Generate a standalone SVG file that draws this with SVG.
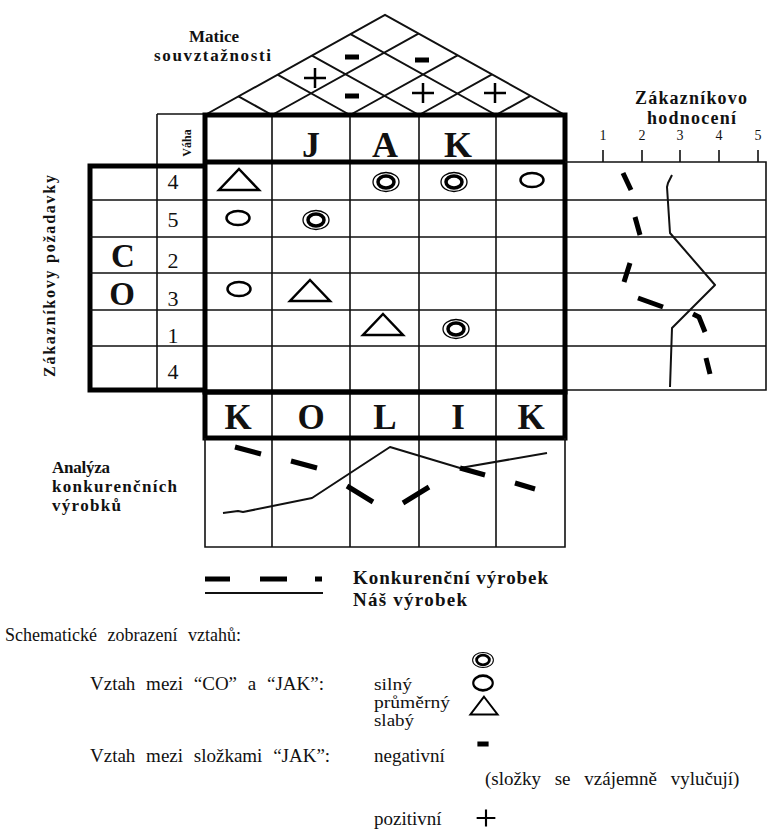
<svg xmlns="http://www.w3.org/2000/svg" width="773" height="831" viewBox="0 0 773 831">
<style>
.thin{stroke:#111;stroke-width:1.6;fill:none}
.thick{stroke:#000;stroke-width:5;fill:none}
.roof{stroke:#111;stroke-width:2;fill:none}
.sym{stroke:#000;fill:none}
.comp{stroke:#000;stroke-width:5;fill:none}
.ours{stroke:#111;stroke-width:2;fill:none;stroke-linejoin:round}
.b{font-family:"Liberation Serif","Times New Roman",serif;font-weight:bold;fill:#111}
.r{font-family:"Liberation Serif","Times New Roman",serif;fill:#111}
.mid{text-anchor:middle}
</style>
<defs>
<g id="strong"><ellipse rx="13" ry="9.5" stroke-width="1.3"/><ellipse rx="8" ry="6" stroke-width="3.5"/></g>
<g id="med"><ellipse rx="11.5" ry="7" stroke-width="2.5"/></g>
<g id="weak"><polygon points="0,-11 20,10 -20,10" stroke-width="2.5"/></g>
<g id="plus"><path d="M-11,0H11M0,-10V10" stroke-width="2.5"/></g>
<g id="minus"><rect x="-7" y="-2.5" width="14" height="5" fill="#000" stroke="none"/></g>
</defs>
<rect width="773" height="831" fill="#fff"/>

<g id="roof">
<polyline class="roof" points="205,115 385,15 565,115"/>
<path class="roof" d="M272,115L418.5,33.6M350,115L457.5,55.3M419,115L492,74.4M496,115L530.5,95.8M272,115L238.5,96.4M350,115L277.5,74.7M419,115L312,55.6M496,115L350.5,34.2"/>
<g class="sym">
<use href="#plus" x="315" y="78"/>
<use href="#plus" x="423" y="93"/>
<use href="#plus" x="495" y="93"/>
<use href="#minus" x="352" y="57"/>
<use href="#minus" x="352" y="96"/>
<use href="#minus" x="422" y="60"/>
</g>
<text class="b mid" x="214" y="42" font-size="17">Matice</text>
<text class="b" x="154" y="61" font-size="17" textLength="117" lengthAdjust="spacing">souvztažnosti</text>
</g>

<g id="co-box">
<path class="thin" d="M157,114H205M157,114V390"/>
<path class="thick" d="M205,166H90V390H205"/>
<text class="b mid" transform="translate(191,143) rotate(-90)" font-size="12">Váha</text>
<text class="b mid" font-size="33"><tspan x="123" y="267">C</tspan><tspan x="122" y="305">O</tspan></text>
<g class="r mid" font-size="22">
<text x="173" y="189">4</text>
<text x="173" y="227">5</text>
<text x="173" y="268">2</text>
<text x="173" y="306">3</text>
<text x="173" y="343">1</text>
<text x="173" y="379">4</text>
</g>
<text class="b mid" transform="translate(55,276) rotate(-90)" font-size="16" textLength="202" lengthAdjust="spacing">Zákazníkovy požadavky</text>
</g>

<g id="grid">
<path class="thin" d="M90,200H766M90,237H766M90,273H766M90,310H766M90,346H766"/>
<path class="thin" d="M272,115V547M350,115V547M419,115V547M496,115V547"/>
<rect class="thick" x="205" y="115" width="360" height="277"/>
<path class="thick" d="M205,162H565"/>
<g class="b mid" font-size="36">
<text x="311" y="157">J</text>
<text x="385" y="157">A</text>
<text x="458" y="157">K</text>
</g>
</g>

<g id="relations" class="sym">
<use href="#weak" x="239" y="180"/>
<use href="#strong" x="386" y="182"/>
<use href="#strong" x="454" y="182"/>
<use href="#med" x="532" y="180"/>
<use href="#med" x="238" y="218"/>
<use href="#strong" x="316" y="220"/>
<use href="#med" x="239" y="289"/>
<use href="#weak" x="310" y="291"/>
<use href="#weak" x="383" y="325"/>
<use href="#strong" x="456" y="329"/>
</g>

<g id="rating">
<path class="thin" d="M565,162H766V390H565"/>
<path class="thin" d="M603,150V162M642,150V162M680,150V162M719,150V162M758,150V162"/>
<g class="r mid" font-size="14">
<text x="603" y="140">1</text>
<text x="642" y="140">2</text>
<text x="680" y="140">3</text>
<text x="719" y="140">4</text>
<text x="758" y="140">5</text>
</g>
<text class="b" x="635" y="104" font-size="18" textLength="112" lengthAdjust="spacing">Zákazníkovo</text>
<text class="b" x="647" y="124" font-size="18" textLength="89" lengthAdjust="spacing">hodnocení</text>
<polyline class="ours" points="672,175 668,183 667,187 670,233 715,285 672,328 670,387"/>
<path class="comp" d="M623,173L631,190M635,217L640,235M630,263L624,282M638,298L663,307M693,314L699,317L705,332M706,358L710,374"/>
</g>

<g id="kolik">
<rect class="thick" x="205" y="392" width="360" height="46"/>
<g class="b mid" font-size="35">
<text x="238" y="429">K</text>
<text x="311" y="429">O</text>
<text x="385" y="429">L</text>
<text x="458" y="429">I</text>
<text x="531" y="429">K</text>
</g>
</g>

<g id="analysis">
<path class="thin" d="M205,438V547H565V438"/>
<polyline class="ours" points="223,513 238,511 243,512 312,498 390,447 460,468 547,453"/>
<path class="comp" d="M235,447L261,454M291,461L317,468M347,486L373,502M403,503L429,487M460,468L485,475M515,483L535,489"/>
<text class="b" x="52" y="473" font-size="17" textLength="58" lengthAdjust="spacing">Analýza</text>
<text class="b" x="52" y="492" font-size="17" textLength="125" lengthAdjust="spacing">konkurenčních</text>
<text class="b" x="52" y="511" font-size="17" textLength="69" lengthAdjust="spacing">výrobků</text>
</g>

<g id="legend">
<path class="comp" d="M205,579H230M260,579H287M315,579H322"/>
<path class="ours" d="M205,593H323"/>
<text class="b" x="353" y="584" font-size="19" textLength="195" lengthAdjust="spacing">Konkurenční výrobek</text>
<text class="b" x="353" y="606" font-size="19" textLength="114" lengthAdjust="spacing">Náš výrobek</text>
</g>

<g id="key">
<text class="r" x="5" y="641" font-size="18" word-spacing="6">Schematické  zobrazení vztahů:</text>
<text class="r" x="90" y="690" font-size="19" word-spacing="6">Vztah mezi “CO” a “JAK”:</text>
<text class="r" x="374" y="690" font-size="16" textLength="38" lengthAdjust="spacingAndGlyphs">silný</text>
<text class="r" x="374" y="708" font-size="16" textLength="76" lengthAdjust="spacingAndGlyphs">průměrný</text>
<text class="r" x="374" y="726" font-size="16" textLength="40" lengthAdjust="spacingAndGlyphs">slabý</text>
<text class="r" x="90" y="762" font-size="19" word-spacing="6">Vztah mezi složkami “JAK”:</text>
<text class="r" x="374" y="762" font-size="19">negativní</text>
<text class="r" x="485" y="785" font-size="19" word-spacing="9">(složky se vzájemně vylučují)</text>
<text class="r" x="374" y="825" font-size="19">pozitivní</text>
<g class="sym">
<use href="#strong" transform="translate(483,660) scale(0.8)"/>
<use href="#med" transform="translate(483,683) scale(0.85,1.05)"/>
<use href="#weak" transform="translate(484,706) scale(0.68,0.85)"/>
<use href="#minus" transform="translate(483,744) scale(0.8,1)"/>
<use href="#plus" transform="translate(486,818) scale(0.85)"/>
</g>
</g>
</svg>
